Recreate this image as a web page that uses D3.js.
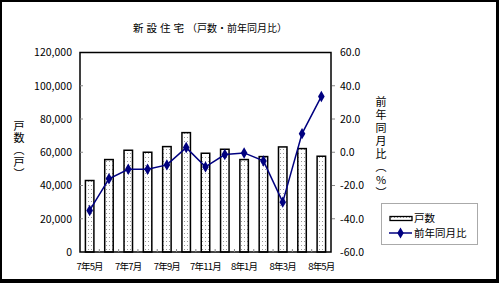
<!DOCTYPE html>
<html>
<head>
<meta charset="utf-8">
<script src="https://cdn.jsdelivr.net/npm/d3@7"></script>
<style>
  body { margin: 0; background: #000; }
  svg { display: block; }
  text { font-family: "Noto Sans CJK JP", "Noto Sans", sans-serif; fill: #000; }
</style>
</head>
<body>
<svg id="chart" width="499" height="283"></svg>
<script>
// months 7年5月 .. 8年5月
const months = ["7年5月","7年6月","7年7月","7年8月","7年9月","7年10月","7年11月","7年12月","8年1月","8年2月","8年3月","8年4月","8年5月"];
const units = [43000, 55600, 61200, 60000, 63400, 71800, 59400, 61800, 55600, 57400, 63200, 62200, 57600];
const yoy = [-35.0, -16.0, -10.2, -10.2, -7.6, 2.8, -8.8, -1.4, -0.4, -5.2, -30.0, 11.2, 33.6];
const leftTicks = [0, 20000, 40000, 60000, 80000, 100000, 120000];
const rightTicks = [-60, -40, -20, 0, 20, 40, 60];
const shownLabels = ["7年5月","7年7月","7年9月","7年11月","8年1月","8年3月","8年5月"];

const svg = d3.select('#chart');
const navy = "#000080";

// white page inside black frame
svg.append('rect').attr('x', 2).attr('y', 2).attr('width', 494).attr('height', 277).attr('fill', '#fff');

const defs = svg.append('defs');
const pat = defs.append('pattern')
  .attr('id', 'dots').attr('patternUnits', 'userSpaceOnUse')
  .attr('width', 3).attr('height', 4);
pat.append('rect').attr('width', 3).attr('height', 4).attr('fill', '#fff');
pat.append('rect').attr('x', 1).attr('y', 1).attr('width', 1).attr('height', 1).attr('fill', '#999');

const plot = { left: 80, right: 331, top: 52.5, bottom: 252 };

const x = d3.scaleBand().domain(months).range([plot.left, plot.right]).paddingInner(0.56).paddingOuter(0.28);
const yL = d3.scaleLinear().domain([0, 120000]).range([plot.bottom, plot.top]);
const yR = d3.scaleLinear().domain([-60, 60]).range([plot.bottom, plot.top]);

// title
const title = svg.append('text').attr('x', 133).attr('y', 32).style('font-size', '10.5px');
title.append('tspan').text('新設住宅').style('letter-spacing', '3px');
title.append('tspan').text('（戸数・前年同月比）').style('font-size', '10px');

// bars
svg.selectAll('rect.bar')
  .data(units)
  .enter()
  .append('rect')
    .attr('class', 'bar')
    .attr('x', (d, i) => x(months[i]))
    .attr('y', d => yL(d))
    .attr('width', x.bandwidth())
    .attr('height', d => plot.bottom - yL(d))
    .attr('fill', 'url(#dots)')
    .attr('stroke', '#000')
    .attr('stroke-width', 1.5);

// plot frame
svg.append('rect')
  .attr('x', plot.left).attr('y', plot.top)
  .attr('width', plot.right - plot.left).attr('height', plot.bottom - plot.top)
  .attr('fill', 'none').attr('stroke', '#000').attr('stroke-width', 1.5);

// left axis
const leftAxis = d3.axisLeft(yL).tickValues(leftTicks).tickSize(0).tickPadding(8).tickFormat(d3.format(','));
const lg = svg.append('g').attr('transform', `translate(${plot.left},0)`).call(leftAxis);
lg.select('.domain').remove();
lg.selectAll('text').style('font-size', '10.5px').style('font-family', '"Noto Sans CJK JP", sans-serif');
svg.selectAll('line.ltick')
  .data(leftTicks.slice(1, -1))
  .enter().append('line')
    .attr('x1', plot.left).attr('x2', plot.left + 3)
    .attr('y1', d => yL(d)).attr('y2', d => yL(d))
    .attr('stroke', '#888');

// right axis
const rightAxis = d3.axisRight(yR).tickValues(rightTicks).tickSize(0).tickPadding(9).tickFormat(d3.format('.1f'));
const rg = svg.append('g').attr('transform', `translate(${plot.right},0)`).call(rightAxis);
rg.select('.domain').remove();
rg.selectAll('text').style('font-size', '10.5px').style('font-family', '"Noto Sans CJK JP", sans-serif')
  .text(d => d3.format('.1f')(d).replace('−', '-'));
svg.selectAll('line.rtick')
  .data(rightTicks.slice(1, -1))
  .enter().append('line')
    .attr('x1', plot.right + 1).attr('x2', plot.right + 4)
    .attr('y1', d => yR(d)).attr('y2', d => yR(d))
    .attr('stroke', '#888');

// bottom category ticks
svg.selectAll('line.btick')
  .data(months.slice(1))
  .enter().append('line')
    .attr('x1', d => x(d) - x.step() * 0.28).attr('x2', d => x(d) - x.step() * 0.28)
    .attr('y1', plot.bottom - 3).attr('y2', plot.bottom)
    .attr('stroke', '#888');

// x labels
svg.selectAll('text.xl')
  .data(shownLabels)
  .enter().append('text')
    .attr('x', d => x(d) + x.bandwidth() / 2)
    .attr('y', 270)
    .attr('text-anchor', 'middle')
    .style('font-size', '9.5px')
    .style('letter-spacing', '-0.8px')
    .text(d => d);

// line
const line = d3.line().x((d, i) => x(months[i]) + x.bandwidth() / 2).y(d => yR(d));
svg.append('path').datum(yoy)
  .attr('d', line).attr('fill', 'none').attr('stroke', navy).attr('stroke-width', 1.5);
svg.selectAll('path.mk')
  .data(yoy)
  .enter().append('path')
    .attr('class', 'mk')
    .attr('transform', (d, i) => `translate(${x(months[i]) + x.bandwidth() / 2},${yR(d)})`)
    .attr('d', d3.symbol().type(d3.symbolDiamond).size(38))
    .attr('fill', navy);

// axis titles (vertical)
svg.append('text')
  .attr('x', 19).attr('y', 120)
  .style('writing-mode', 'vertical-rl')
  .style('text-orientation', 'upright')
  .style('font-size', '11px')
  .style('letter-spacing', '1px')
  .text('戸数（戸）');

svg.append('text')
  .attr('x', 381).attr('y', 96)
  .style('writing-mode', 'vertical-rl')
  .style('text-orientation', 'upright')
  .style('font-size', '11px')
  .style('letter-spacing', '2px')
  .text('前年同月比（%）');

// legend
const lgd = svg.append('g');
lgd.append('rect').attr('x', 381.5).attr('y', 203.5).attr('width', 96).attr('height', 41)
  .attr('fill', '#fff').attr('stroke', '#aaa');
lgd.append('rect').attr('x', 390).attr('y', 216.5).attr('width', 22).attr('height', 4)
  .attr('fill', 'url(#dots)').attr('stroke', '#000').attr('stroke-width', 1.3);
lgd.append('text').attr('x', 414).attr('y', 222).style('font-size', '10.5px').text('戸数');
lgd.append('line').attr('x1', 389).attr('x2', 412).attr('y1', 233).attr('y2', 233)
  .attr('stroke', navy).attr('stroke-width', 1.5);
lgd.append('path').attr('transform', 'translate(400.5,233)')
  .attr('d', d3.symbol().type(d3.symbolDiamond).size(36)).attr('fill', navy);
lgd.append('text').attr('x', 414).attr('y', 237).style('font-size', '10.5px').text('前年同月比');
</script>
</body>
</html>
